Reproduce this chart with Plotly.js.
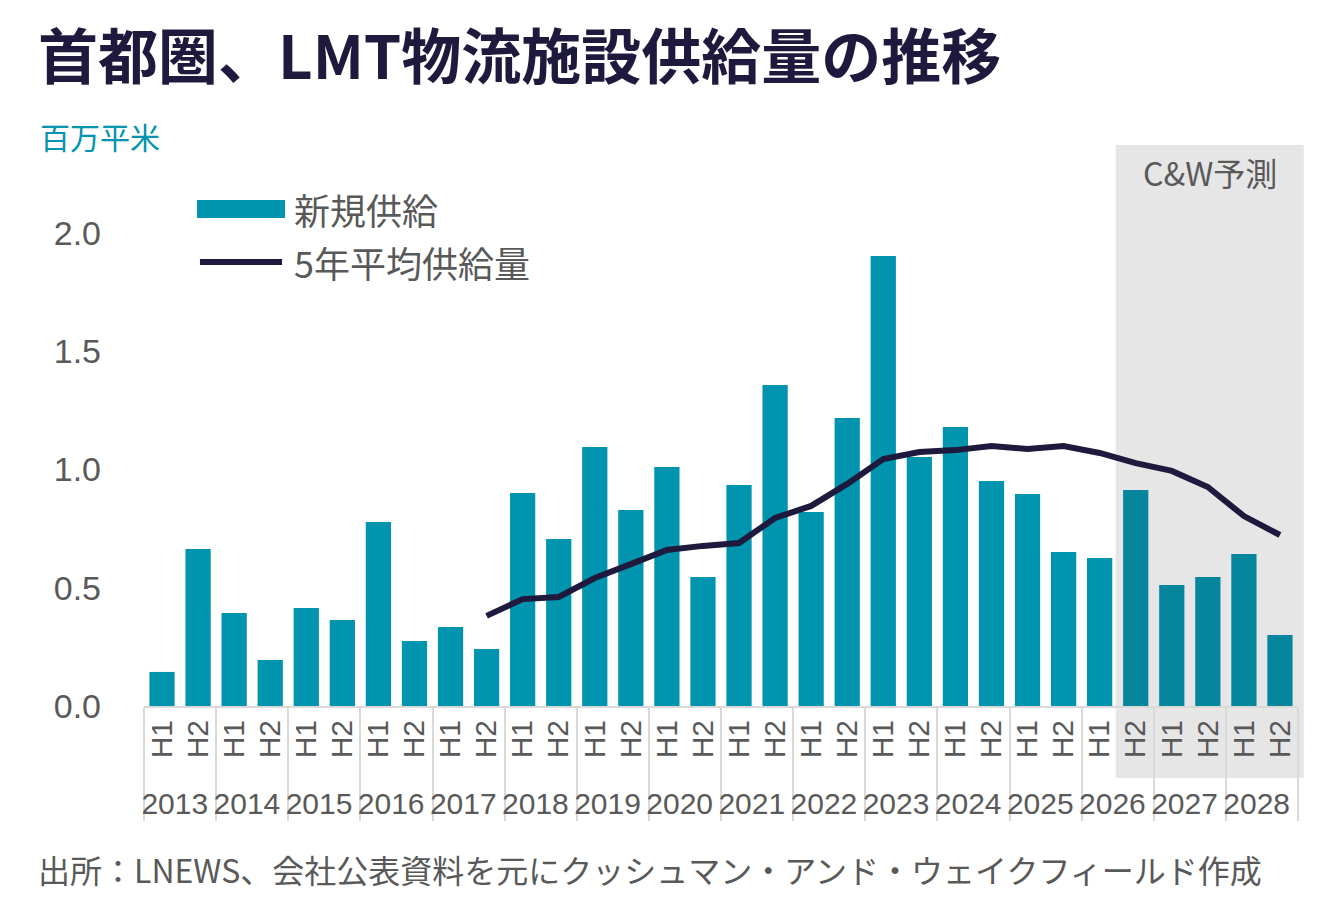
<!DOCTYPE html>
<html>
<head>
<meta charset="utf-8">
<script src="https://cdn.plot.ly/plotly-3.0.1.min.js"></script>
<style>
html,body{margin:0;padding:0;background:#fff;}
#chart{width:1325px;height:918px;}
</style>
</head>
<body>
<div id="chart"></div>
<script>
// ---- data ----
const years = ['2013','2014','2015','2016','2017','2018','2019','2020','2021','2022','2023','2024','2025','2026','2027','2028'];
const halves = ['H1','H2'];
const newSupply = [0.144,0.664, 0.393,0.195, 0.414,0.364, 0.778,0.275, 0.334,0.241,
                   0.901,0.706, 1.095,0.829, 1.011,0.545, 0.934,1.357, 0.820,1.218,
                   1.903,1.053, 1.180,0.951, 0.896,0.651, 0.626,0.913, 0.512,0.545, 0.643,0.300];
const avg5yr = [null,null, null,null, null,null, null,null, null,0.381,
                0.452,0.461, 0.541,0.600, 0.660,0.677, 0.689,0.795, 0.846,0.939,
                1.044,1.074, 1.082,1.099, 1.087,1.099, 1.070,1.027, 0.994,0.926, 0.803,0.723];
const forecastFrom = ['2026','H2'];
const yTicks = [0, 0.5, 1.0, 1.5, 2.0];

const title = '首都圏、LMT物流施設供給量の推移';
const unitLabel = '百万平米';
const seriesNames = ['新規供給','5年平均供給量'];
const forecastLabel = 'C&W予測';
const sourceText = '出所：LNEWS、会社公表資料を元にクッシュマン・アンド・ウェイクフィールド作成';

// ---- build categories ----
const xYear = [], xHalf = [];
years.forEach(y => halves.forEach(h => { xYear.push(y); xHalf.push(h); }));
const fIdx = xYear.findIndex((y,i) => y === forecastFrom[0] && xHalf[i] === forecastFrom[1]);
const BAR = '#0094ae', BAR_F = '#06869d', LINE = '#1e1a3e';
const barColors = newSupply.map((v,i) => i >= fIdx ? BAR_F : BAR);

const FONT = 'Liberation Sans, Arial, "Noto Sans CJK JP", sans-serif';
const JFONT = '"Noto Sans CJK JP", "Liberation Sans", sans-serif';
const GREY = '#595959';

const traces = [
  {
    type: 'bar', name: seriesNames[0],
    x: [xYear, xHalf], y: newSupply,
    marker: {color: barColors, line: {width: 0}},
    hoverinfo: 'skip'
  },
  {
    type: 'scatter', mode: 'lines', name: seriesNames[1],
    x: [xYear, xHalf], y: avg5yr,
    line: {color: LINE, width: 6},
    connectgaps: false, hoverinfo: 'skip'
  }
];

const layout = {
  width: 1325, height: 918,
  margin: {l: 144, r: 27, t: 233, b: 212},
  paper_bgcolor: '#ffffff', plot_bgcolor: 'rgba(0,0,0,0)',
  font: {family: FONT, color: GREY, size: 30},
  bargap: 0.3,
  showlegend: false,
  xaxis: {
    type: 'multicategory',
    showline: true, linecolor: '#d9d9d9', linewidth: 2,
    showgrid: false, ticks: '',
    tickangle: -90,
    tickfont: {family: FONT, size: 30, color: GREY},
    showdividers: true, dividercolor: '#d9d9d9', dividerwidth: 2,
    range: [-0.5, 31.5]
  },
  yaxis: {
    range: [0, 2.0], tickvals: yTicks, tickformat: '.1f',
    showgrid: false, zeroline: false, showline: false,
    ticks: '', ticklabelstandoff: 42,
    tickfont: {family: FONT, size: 34, color: GREY}
  },
  shapes: [
    {type: 'rect', xref: 'paper', yref: 'paper', x0: 0.842, x1: 1.005, y0: -0.152, y1: 1.186,
     fillcolor: '#e6e6e6', line: {width: 0}, layer: 'below'},
    // legend swatches
    {type: 'rect', xref: 'paper', yref: 'paper', x0: 0.0459, x1: 0.1222, y0: 1.0317, y1: 1.0698,
     fillcolor: BAR, line: {width: 0}},
    {type: 'line', xref: 'paper', yref: 'paper', x0: 0.0485, x1: 0.1196, y0: 0.9387, y1: 0.9387,
     line: {color: LINE, width: 6}}
  ],
  annotations: [
    {text: '<b>' + title + '</b>', xref: 'paper', yref: 'paper', x: -0.094, y: 1.382,
     xanchor: 'left', yanchor: 'middle', showarrow: false,
     font: {family: JFONT, size: 60, color: LINE}},
    {text: unitLabel, xref: 'paper', yref: 'paper', x: -0.092, y: 1.205,
     xanchor: 'left', yanchor: 'middle', showarrow: false,
     font: {family: JFONT, size: 30, color: BAR}},
    {text: seriesNames[0], xref: 'paper', yref: 'paper', x: 0.128, y: 1.0507,
     xanchor: 'left', yanchor: 'middle', showarrow: false,
     font: {family: JFONT, size: 36, color: GREY}},
    {text: seriesNames[1], xref: 'paper', yref: 'paper', x: 0.128, y: 0.9387,
     xanchor: 'left', yanchor: 'middle', showarrow: false,
     font: {family: JFONT, size: 36, color: GREY}},
    {text: forecastLabel, xref: 'paper', yref: 'paper', x: 0.9235, y: 1.129,
     xanchor: 'center', yanchor: 'middle', showarrow: false,
     font: {family: JFONT, size: 32, color: GREY}},
    {text: sourceText, xref: 'paper', yref: 'paper', x: -0.094, y: -0.345,
     xanchor: 'left', yanchor: 'middle', showarrow: false,
     font: {family: JFONT, size: 32, color: GREY}}
  ]
};

Plotly.newPlot('chart', traces, layout, {displayModeBar: false, staticPlot: true});
</script>
</body>
</html>
